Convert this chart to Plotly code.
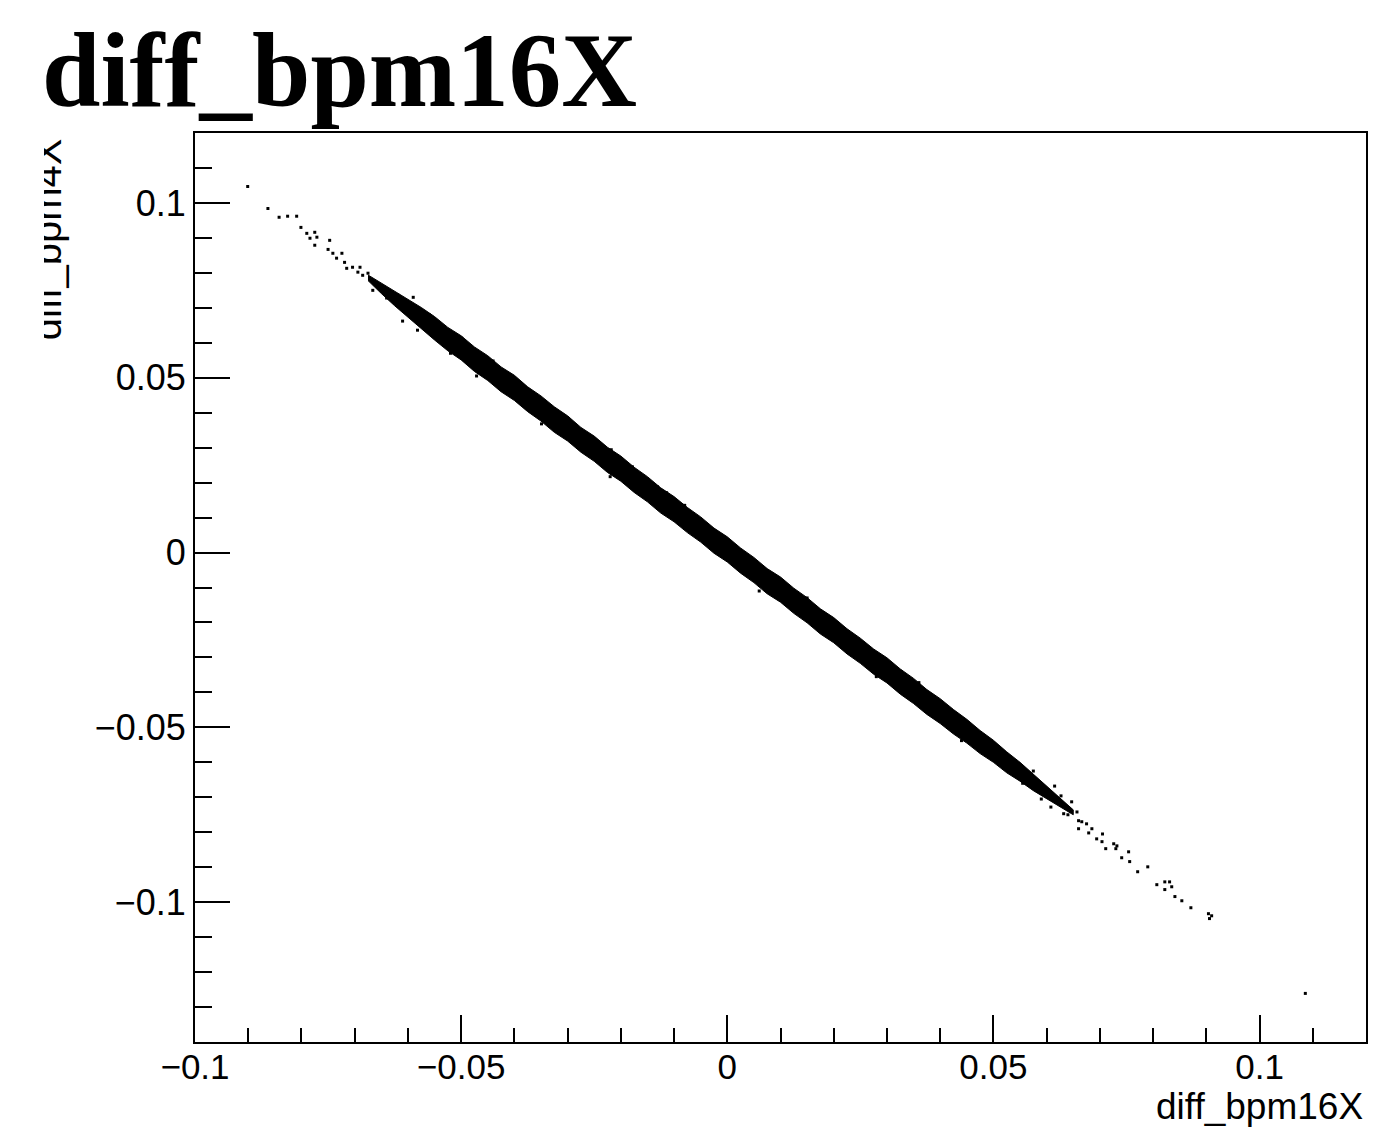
import plotly.graph_objects as go

# ---------------- data ----------------
# dense core of the scatter: upper and lower edges of the band
band_x = [-0.0675, -0.0650, -0.0625, -0.0600, -0.0575, -0.0550, -0.0525, -0.0500, -0.0475, -0.0450,
          -0.0425, -0.0400, -0.0375, -0.0350, -0.0325, -0.0300, -0.0275, -0.0250, -0.0225, -0.0200,
          -0.0175, -0.0150, -0.0125, -0.0100, -0.0075, -0.0050, -0.0025, 0.0000, 0.0025, 0.0050,
          0.0075, 0.0100, 0.0125, 0.0150, 0.0175, 0.0200, 0.0225, 0.0250, 0.0275, 0.0300,
          0.0325, 0.0350, 0.0375, 0.0400, 0.0425, 0.0450, 0.0475, 0.0500, 0.0525, 0.0550,
          0.0575, 0.0600, 0.0625, 0.0650]
band_upper = [0.0794, 0.0771, 0.0748, 0.0725, 0.0701, 0.0675, 0.0644, 0.0620, 0.0588, 0.0563,
              0.0531, 0.0507, 0.0474, 0.0448, 0.0417, 0.0391, 0.0358, 0.0333, 0.0301, 0.0276,
              0.0244, 0.0217, 0.0185, 0.0160, 0.0129, 0.0102, 0.0070, 0.0045, 0.0013, -0.0014,
              -0.0046, -0.0070, -0.0102, -0.0129, -0.0161, -0.0186, -0.0218, -0.0245, -0.0276, -0.0301,
              -0.0333, -0.0360, -0.0392, -0.0418, -0.0449, -0.0477, -0.0509, -0.0537, -0.0570, -0.0600,
              -0.0634, -0.0666, -0.0700, -0.0736]
band_lower = [0.0778, 0.0741, 0.0706, 0.0672, 0.0640, 0.0608, 0.0577, 0.0551, 0.0518, 0.0492,
              0.0460, 0.0435, 0.0403, 0.0376, 0.0344, 0.0319, 0.0287, 0.0261, 0.0229, 0.0204,
              0.0172, 0.0145, 0.0113, 0.0088, 0.0057, 0.0030, -0.0002, -0.0027, -0.0059, -0.0086,
              -0.0118, -0.0142, -0.0174, -0.0201, -0.0233, -0.0258, -0.0290, -0.0317, -0.0348, -0.0373,
              -0.0405, -0.0432, -0.0463, -0.0489, -0.0519, -0.0545, -0.0575, -0.0600, -0.0630, -0.0654,
              -0.0681, -0.0704, -0.0727, -0.0750]

# individual points (sparse tails and stray points near the band)
pts_x = [-0.0901, -0.0863, -0.0842, -0.0826, -0.0809, -0.0801, -0.0790, -0.0784, -0.0775, -0.0771,
         -0.0775, -0.0747, -0.0750, -0.0741, -0.0734, -0.0724, -0.0719, -0.0715, -0.0704, -0.0690,
         -0.0694, -0.0685, -0.0675, -0.0668, -0.0659, -0.0647, -0.0666, -0.0640, -0.0629, -0.0619,
         -0.0610,
         -0.0386, -0.0349, -0.0218, -0.0178, -0.0150, -0.0131, -0.0114, -0.0220, -0.0471, -0.0390,
         -0.0582, -0.0499, 0.0501, 0.0326, -0.0560, -0.0520, -0.0440, -0.0300, -0.0080, 0.0060,
         0.0150, 0.0280, 0.0360, 0.0440, 0.0480, 0.0555, 0.0575, 0.0590, 0.0615, 0.0640,
         -0.0590, -0.0610,
         0.0627, 0.0608, 0.0632, 0.0647, 0.0657, 0.0660, 0.0666, 0.0675, 0.0660, 0.0679,
         0.0685, 0.0694, 0.0705, 0.0704, 0.0711, 0.0726, 0.0732, 0.0730, 0.0741, 0.0754,
         0.0756, 0.0771, 0.0790, 0.0807, 0.0822, 0.0822, 0.0831, 0.0835, 0.0841, 0.0854,
         0.0871, 0.0904, 0.0906, 0.0910, 0.1086]
pts_y = [0.1047, 0.0984, 0.0959, 0.0962, 0.0962, 0.0930, 0.0913, 0.0899, 0.0916, 0.0902,
         0.0879, 0.0893, 0.0867, 0.0856, 0.0842, 0.0856, 0.0830, 0.0813, 0.0816, 0.0816,
         0.0802, 0.0793, 0.0799, 0.0779, 0.0770, 0.0759, 0.0750, 0.0728, 0.0722, 0.0736,
         0.0708,
         0.0479, 0.0368, 0.0294, 0.0245, 0.0208, 0.0188, 0.0171, 0.0217, 0.0505, 0.0474,
         0.0636, 0.0613, -0.0548, -0.0340, 0.0680, 0.0570, 0.0548, 0.0385, 0.0135, -0.0110,
         -0.0130, -0.0355, -0.0372, -0.0538, -0.0522, -0.0660, -0.0625, -0.0705, -0.0668, -0.0750,
         0.0730, 0.0662,
         -0.0696, -0.0728, -0.0747, -0.0713, -0.0742, -0.0767, -0.0770, -0.0776, -0.0790, -0.0802,
         -0.0790, -0.0819, -0.0805, -0.0827, -0.0847, -0.0833, -0.0839, -0.0847, -0.0873, -0.0856,
         -0.0884, -0.0913, -0.0899, -0.0950, -0.0942, -0.0964, -0.0942, -0.0956, -0.0984, -0.0996,
         -0.1016, -0.1033, -0.1047, -0.1039, -0.1261]

tick_vals = [-0.1, -0.05, 0, 0.05, 0.1]
tick_text = ["\u22120.1", "\u22120.05", "0", "0.05", "0.1"]
x_range = [-0.1, 0.12]
y_range = [-0.14, 0.12]

title_text = "diff_bpm16X"
x_title = "diff_bpm16X"
y_title = "diff_bpm4X"

# ---------------- figure ----------------
W, H = 1376, 1140
ML, MR, MT, MB = 195, 8, 133, 98
PW, PH = W - ML - MR, H - MT - MB


def px_x(p):
    return (p - ML) / PW


def px_y(p):
    return (H - MB - p) / PH


fig = go.Figure()

poly_x = list(band_x) + list(reversed(band_x))
poly_y = list(band_upper) + list(reversed(band_lower))
fig.add_trace(go.Scatter(x=poly_x, y=poly_y, mode="lines", fill="toself",
                         fillcolor="black", line=dict(color="black", width=1),
                         hoverinfo="skip", showlegend=False))
fig.add_trace(go.Scatter(x=pts_x, y=pts_y, mode="markers",
                         marker=dict(symbol="square", size=3, color="black", line=dict(width=0)),
                         showlegend=False))

axis_common = dict(
    showgrid=False, zeroline=False, showline=True, mirror=True,
    linecolor="black", linewidth=2,
    ticks="inside", tickwidth=2, tickcolor="black",
    tickvals=tick_vals, ticktext=tick_text,
)

fig.update_xaxes(range=x_range, ticklen=27, ticklabelstandoff=-7,
                 tickfont=dict(family="Liberation Sans, Arial, sans-serif", size=35, color="black"),
                 minor=dict(dtick=0.01, tick0=0, ticks="inside", ticklen=14,
                            tickwidth=2, tickcolor="black"),
                 **axis_common)
fig.update_yaxes(range=y_range, ticklen=35,
                 tickfont=dict(family="Liberation Sans, Arial, sans-serif", size=36, color="black"),
                 minor=dict(dtick=0.01, tick0=0, ticks="inside", ticklen=17,
                            tickwidth=2, tickcolor="black"),
                 **axis_common)

annotations = [
    dict(text=f"<b>{title_text}</b>", xref="paper", yref="paper",
         x=px_x(40), y=px_y(131), xanchor="left", yanchor="bottom", showarrow=False,
         font=dict(family="Liberation Serif, Times New Roman, serif", size=105, color="black")),
    dict(text=x_title, xref="paper", yref="paper",
         x=px_x(1367), y=px_y(1129), xanchor="right", yanchor="bottom", showarrow=False,
         font=dict(family="Liberation Sans, Arial, sans-serif", size=37, color="black")),
    dict(text=y_title, xref="paper", yref="paper", textangle=-90,
         x=px_x(71), y=px_y(136), xanchor="right", yanchor="top", showarrow=False,
         font=dict(family="Liberation Sans, Arial, sans-serif", size=40, color="black")),
    # white strip reproducing the clipped upper half of the y title glyphs
    dict(text=" ", xref="paper", yref="paper", x=px_x(0), y=px_y(132),
         xanchor="left", yanchor="top", showarrow=False, width=44, height=230,
         bgcolor="white", borderpad=0, borderwidth=0),
]

fig.update_layout(
    width=W, height=H,
    margin=dict(l=ML, r=MR, t=MT, b=MB, pad=0),
    paper_bgcolor="white", plot_bgcolor="white",
    annotations=annotations,
    showlegend=False,
)

fig.write_html("out.html", config={"displayModeBar": False},
               post_script="document.body.style.margin='0';document.documentElement.style.overflow='hidden';")
